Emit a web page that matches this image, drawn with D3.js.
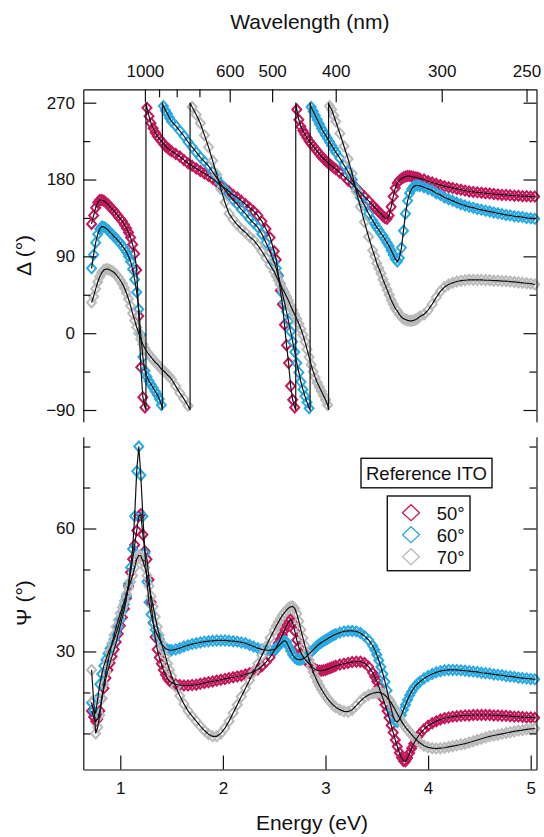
<!DOCTYPE html>
<html>
<head>
<meta charset="utf-8">
<script src="https://cdn.jsdelivr.net/npm/d3@7"></script>
<style>
  body { margin: 0; background: #fff; }
  svg text { font-family: Arial, "Liberation Sans", sans-serif; fill: #111; }
</style>
</head>
<body>
<div id="chart"></div>
<script>
// photon energy grid (eV), denser where the curves are steep
const energy = [
  0.72,0.74,0.76,0.78,0.80,0.82,0.84,0.86,0.88,0.90,0.92,0.94,0.96,0.98,1.00,1.02,1.04,1.06,1.08,1.10,
  1.12,1.14,1.16,1.18,1.20,1.22,1.24,1.26,1.28,1.30,1.32,1.34,1.36,1.38,1.40,1.42,1.44,1.46,1.48,1.50,
  1.54,1.58,1.62,1.66,1.70,1.74,1.78,1.82,1.86,1.90,1.94,1.98,2.02,2.06,2.10,2.14,2.18,2.22,2.26,2.30,
  2.34,2.38,2.42,2.46,2.50,
  2.52,2.54,2.56,2.58,2.60,2.62,2.64,2.66,2.68,2.70,2.72,2.74,2.76,2.78,2.80,2.82,2.84,2.86,2.88,2.90,
  2.92,2.94,2.96,2.98,3.00,3.02,3.04,3.06,3.08,3.10,
  3.14,3.18,3.22,3.26,3.30,3.34,3.38,3.42,3.46,
  3.48,3.50,3.52,3.54,3.56,3.58,3.60,3.62,3.64,3.66,3.68,3.70,3.72,3.74,3.76,3.78,3.80,3.82,3.84,3.86,
  3.88,3.90,3.92,
  3.96,4.00,4.04,4.08,4.12,4.16,4.20,4.24,4.28,4.32,4.36,4.40,4.44,4.48,4.52,4.56,4.60,4.64,4.68,4.72,
  4.76,4.80,4.84,4.88,4.92,4.96,5.00,5.04
];

// Delta (deg), wrapped into -90..270
const delta50 = [
  128,138,147,153,156,156,155,153,151,148, 145.5,143,140,137,134,131,127,123,118,112,
  104,93,74,20,-40,-75,-87,264,254,246, 240,235,231,228,225,222,219,217,215,213,
  210,207,203,199,196,193,190,187,184,181, 177,173,170,166,162,159,155,151,147,143, 138,131,122,112,96,
  86,68,50,34,10,-14,-35,-62,-78,-87, 262,250,242,237,233,229,225,222,219,216, 213,210,207,205,202,200,198,196,194,192,
  188,184,179,175,170,165,160,155,150,
  147,145,142,140,137,135,134,138,148,160, 170,176,179,181,182.5,183.5,184,184,183.5,183, 182.5,182,181,
  180,178,176.5,175,173.5,172,171,170,169,168, 167,166,165.5,165,164.5,164,163.5,163,162.5,162, 162,161.5,161,161,160.5,160.5,160,160
];
const delta60 = [
  76,92,106,116,122,125,124.5,123,121,118, 116,113,111,108,105.5,102,99,95,90,84,
  75,63,48,28,-2,-28,-44,-51,-56,-60, -64,-68,-72,-77,-84,266,261,257,252,248,
  243,237,231,224,218,212,206,201,196,189, 182,175,168,162,156,151,145,140,134,129, 124,116,106,95,83,
  76,67,58,47,36,25,14,2,-10,-22, -35,-46,-57,-66,-74,-81,-88,265,260,255, 250,245,240,236,232,228,224,220,216,212,
  205,197,189,180,169,159,150,140,132,
  128,124,121,117,114,110,106,102,97,92, 87,84,88,100,120,140,155,164,169,172, 173,173,172.5,
  171,169,167,164,162,159,157,155,153,151, 149.5,148,147,145.5,144.5,143.5,142.5,141.5,140.5,139.5, 138.5,138,137,136.5,136,135,134.5,134
];
const delta70 = [
  36,43,52,60,66,71,74,75,75,74, 72.5,71,68.5,65.5,62,58,53,47,40,32,
  23,15,7,0,-7,-13,-18,-22,-25,-28, -31,-34,-36,-39,-42,-44,-46,-49,-51,-54,
  -62,-70,-77,-85,265,256,246,232,218,202, 186,169,153,140,133,127,122,118,113,109, 103,96,88,80,72,
  67,62,57,52,48,43,38,32,27,22, 17,11,5,-2,-10,-19,-28,-37,-45,-52, -58,-63,-68,-73,-78,-84,266,262,255,248,
  234,219,204,187,166,148,130,113,97,
  90,82,76,70,63,57,51,45,39,34, 29,26,22,19,17,16,15,14.5,14.5,15, 16,17.5,19.5,
  22,27,34,42,49,54,57,59,60.5,61.5, 62,62.5,62.5,62.5,62.5,62,62,61.5,61.5,61, 61,60.5,60,59.5,59,58.5,58,57
];

// Psi (deg)
const psi50 = [
  15.5,14,13,13.5,15.5,18.5,21,23.5,25.5,27.2, 28.8,30.5,32.3,34.3,36.3,38.3,40.4,43,46,49.3,
  52.5,56,59.5,63,63.5,58.5,54.5,52.5,47.5,42, 37,33.5,30.5,28.5,27,25.5,24.3,23.4,22.8,22.4,
  22,21.8,21.7,21.7,21.8,21.9,22.1,22.3,22.5,22.7, 22.9,23.1,23.3,23.5,23.7,23.9,24.1,24.4,24.7,25.1, 25.6,26.4,27.4,28.6,30.2,
  31,32,33,34,35.2,36.3,37.3,37.8,37,35, 32.8,31,29.7,28.8,28.1,27.5,27,26.5,26,25.6, 25.4,25.3,25.3,25.4,25.5,25.7,25.9,26.1,26.3,26.5,
  26.8,27,27.2,27.4,27.5,27.5,27.2,26.3,24.8,
  23.8,22.7,21.4,19.9,18.5,17,15.5,13.8,12,10.2, 8.4,6.8,5.3,4.1,3.3,3.2,4,5.2,6.4,7.5, 8.4,9.2,9.9,
  11,11.9,12.5,13,13.4,13.7,13.9,14.1,14.2,14.3, 14.4,14.4,14.5,14.5,14.5,14.5,14.5,14.4,14.4,14.3, 14.3,14.2,14.1,14.1,14,13.9,13.9,13.8
];
const psi60 = [
  17.5,15.5,15,18.5,22,24.5,26.5,28,29.5,30.7, 31.8,33,34.4,36,37.8,39.8,41.5,43.5,46.5,50.5,
  55,63,74,80,73,63,54,47,42,39, 37,35.3,34,33,32,31.3,30.8,30.5,30.3,30.3,
  30.5,30.8,31.2,31.5,31.8,32,32.2,32.4,32.5,32.6, 32.7,32.7,32.7,32.6,32.5,32.4,32.2,32,31.6,31.2, 30.8,30.5,30.3,30.3,30.5,
  30.8,31.3,31.8,32.3,32.6,32.3,31.3,30.2,29.2,28.5, 28.1,28,28,28.2,28.5,28.9,29.4,29.9,30.4,30.9, 31.4,31.8,32.2,32.5,32.8,33.1,33.4,33.7,34,34.2,
  34.6,34.9,35,35,34.9,34.5,33.8,32.8,31.4,
  30.4,29.2,27.8,26.2,24.5,22.6,20.5,18.2,16,14.2, 13,12.8,13.4,14.5,15.8,17,18.2,19.3,20.2,21, 21.7,22.2,22.6,
  23.4,24,24.5,24.9,25.2,25.4,25.5,25.5,25.5,25.4, 25.3,25.2,25.1,25,24.8,24.7,24.6,24.4,24.3,24.2, 24,23.9,23.8,23.6,23.5,23.4,23.3,23.2
];
const psi70 = [
  25.5,18,10,11.5,14.5,18.5,22,25,27.5,30, 32,34,36,37.7,39.3,40.8,42.3,44,45.5,47,
  48.5,50.5,52.5,53.5,53.3,52,50.5,48.5,46,43.5, 41,38.5,36,34,32,30.5,28.8,27,25.5,24,
  21.4,19.2,17.2,15.5,14.2,13,11.8,10.7,9.8,9.3, 9.3,10,11.3,13,15,17,19,21,23,25, 27,29,31.2,33.3,35.2,
  36.2,37.1,38,38.8,39.5,40.1,40.6,40.9,41,40.5, 39.2,37.4,35.3,33.3,31.4,29.6,27.9,26.4,25,23.8, 22.7,21.7,20.8,20,19.2,18.5,17.9,17.3,16.8,16.4,
  15.8,15.4,15.3,15.8,16.8,17.9,18.8,19.4,19.8,
  19.9,20,20,19.9,19.7,19.3,18.8,18.2,17.5,16.6, 15.7,14.8,13.9,13,12.2,11.5,10.9,10.3,9.7,9.1, 8.6,8.1,7.7,
  7,6.6,6.4,6.3,6.4,6.5,6.7,6.9,7.1,7.3, 7.5,7.8,8.1,8.4,8.7,9,9.3,9.5,9.7,9.9, 10.1,10.3,10.5,10.7,10.8,11,11.1,11.2
];

// energies where the Delta fit wraps from -90 back to 270
const wrap50 = [1.25, 2.71];
const wrap60 = [1.41, 2.85];
const wrap70 = [1.68, 3.03];
const deltaWrap = [-90, 270];

const angles = ["50°", "60°", "70°"];
const colors = ["#c4175b", "#29a9e0", "#bababa"];

const deltaTicks = [-90, 0, 90, 180, 270], deltaMinor = [-45, 45, 135, 225];
const psiTicks = [30, 60], psiMinor = [10, 20, 40, 50, 70, 80];
const energyTicks = [1, 2, 3, 4, 5];
const waveTicks = [1000, 600, 500, 400, 300, 250], waveMinor = [900, 800, 700];

const W = 544, H = 837;
const left = 83.3, right = 536.5;
const top1 = 89.3, bot1 = 421.7, top2 = 436.7, bot2 = 769.5;

const svg = d3.select("#chart").append("svg").attr("width", W).attr("height", H);

const x = d3.scaleLinear().domain([0.6394, 5.0565]).range([left, right]);
const yD = d3.scaleLinear().domain([-103.7, 285.7]).range([bot1, top1]);
const yP = d3.scaleLinear().domain([1.2, 82.4]).range([bot2, top2]);

const defs = svg.append("defs");
defs.append("clipPath").attr("id", "clipD").append("rect")
    .attr("x", left).attr("y", top1 - 6).attr("width", right - left + 4).attr("height", bot1 - top1 + 6);
defs.append("clipPath").attr("id", "clipP").append("rect")
    .attr("x", left).attr("y", top2 - 6).attr("width", right - left + 4).attr("height", bot2 - top2 + 6);

const diamond = "M0,-5L4.5,0L0,5L-4.5,0Z";

function drawPanel(series, y, clip, wraps) {
    var g = svg.append("g").attr("clip-path", "url(#" + clip + ")");
    series.forEach(function (vals, i) {
        g.append("g").selectAll("path")
            .data(energy.map(function (e, j) { return [e, vals[j]]; }))
            .enter().append("path")
            .attr("d", diamond)
            .attr("transform", function (d) { return "translate(" + x(d[0]) + "," + y(d[1]) + ")"; })
            .attr("fill", "none")
            .attr("stroke", colors[i])
            .attr("stroke-width", 2);
    });
    // fit lines (black) on top
    var line = d3.line().x(function (d) { return x(d[0]); }).y(function (d) { return y(d[1]); });
    series.forEach(function (vals, i) {
        var pts = [], k = 0;
        for (var j = 0; j < energy.length; j++) {
            if (wraps && j > 0 && Math.abs(vals[j] - vals[j - 1]) > 180) {
                pts.push([wraps[i][k], deltaWrap[0]]);
                pts.push([wraps[i][k], deltaWrap[1]]);
                k++;
            }
            pts.push([energy[j], vals[j]]);
        }
        g.append("path").attr("d", line(pts))
            .attr("fill", "none").attr("stroke", "#111").attr("stroke-width", 1.2);
    });
}

drawPanel([delta50, delta60, delta70], yD, "clipD", [wrap50, wrap60, wrap70]);
drawPanel([psi50, psi60, psi70], yP, "clipP", null);

function styleAxis(g, size) {
    g.selectAll("path, line").attr("stroke", "#111").attr("stroke-width", 1.2);
    g.selectAll("text").style("font-size", size + "px").attr("fill", "#111");
    g.attr("font-family", null);
}

// ---- top panel axes ----
styleAxis(svg.append("g").attr("transform", "translate(" + left + ",0)")
    .call(d3.axisLeft(yD).tickValues(deltaTicks).tickSize(-13).tickSizeOuter(0).tickPadding(8.3)), 17);
styleAxis(svg.append("g").attr("transform", "translate(" + left + ",0)")
    .call(d3.axisLeft(yD).tickValues(deltaMinor).tickSize(-7).tickFormat("")).call(function (g) { g.select(".domain").remove(); }), 17);
styleAxis(svg.append("g").attr("transform", "translate(" + right + ",0)")
    .call(d3.axisRight(yD).tickValues(deltaTicks).tickSize(-13).tickSizeOuter(0).tickFormat("")), 17);
styleAxis(svg.append("g").attr("transform", "translate(" + right + ",0)")
    .call(d3.axisRight(yD).tickValues(deltaMinor).tickSize(-7).tickFormat("")).call(function (g) { g.select(".domain").remove(); }), 17);

styleAxis(svg.append("g").attr("transform", "translate(0," + top1 + ")")
    .call(d3.axisTop(x).tickValues(waveTicks.map(function (l) { return 1239.84 / l; }))
        .tickFormat(function (d, i) { return waveTicks[i]; })
        .tickSize(-13).tickSizeOuter(0).tickPadding(12)), 17);
styleAxis(svg.append("g").attr("transform", "translate(0," + top1 + ")")
    .call(d3.axisTop(x).tickValues(waveMinor.map(function (l) { return 1239.84 / l; }))
        .tickSize(-8).tickFormat("")).call(function (g) { g.select(".domain").remove(); }), 17);

// ---- bottom panel axes ----
styleAxis(svg.append("g").attr("transform", "translate(" + left + ",0)")
    .call(d3.axisLeft(yP).tickValues(psiTicks).tickSize(-13).tickSizeOuter(0).tickPadding(8.3)), 17);
styleAxis(svg.append("g").attr("transform", "translate(" + left + ",0)")
    .call(d3.axisLeft(yP).tickValues(psiMinor).tickSize(-7).tickFormat("")).call(function (g) { g.select(".domain").remove(); }), 17);
styleAxis(svg.append("g").attr("transform", "translate(" + right + ",0)")
    .call(d3.axisRight(yP).tickValues(psiTicks).tickSize(-13).tickSizeOuter(0).tickFormat("")), 17);
styleAxis(svg.append("g").attr("transform", "translate(" + right + ",0)")
    .call(d3.axisRight(yP).tickValues(psiMinor).tickSize(-7).tickFormat("")).call(function (g) { g.select(".domain").remove(); }), 17);
styleAxis(svg.append("g").attr("transform", "translate(0," + bot2 + ")")
    .call(d3.axisBottom(x).tickValues(energyTicks).tickFormat(d3.format("d"))
        .tickSize(-14).tickSizeOuter(0).tickPadding(12)), 17);

// ---- titles ----
svg.append("text").attr("x", (left + right) / 2).attr("y", 29)
    .attr("text-anchor", "middle").style("font-size", "21px").text("Wavelength (nm)");
svg.append("text").attr("x", (left + right) / 2 + 2).attr("y", 830)
    .attr("text-anchor", "middle").style("font-size", "21px").text("Energy (eV)");
svg.append("text").attr("transform", "translate(31," + (top1 + bot1) / 2 + ") rotate(-90)")
    .attr("text-anchor", "middle").style("font-size", "21px").text("Δ (°)");
svg.append("text").attr("transform", "translate(31," + (top2 + bot2) / 2 + ") rotate(-90)")
    .attr("text-anchor", "middle").style("font-size", "21px").text("Ψ (°)");

// ---- legend ----
svg.append("rect").attr("x", 361).attr("y", 458.3).attr("width", 131).attr("height", 29.5)
    .attr("fill", "#fff").attr("stroke", "#111").attr("stroke-width", 1.4);
svg.append("text").attr("x", 426.5).attr("y", 480).attr("text-anchor", "middle")
    .style("font-size", "18.5px").text("Reference ITO");

svg.append("rect").attr("x", 387.3).attr("y", 496).attr("width", 82.7).attr("height", 74.7)
    .attr("fill", "#fff").attr("stroke", "#111").attr("stroke-width", 1.4);
var leg = svg.append("g").selectAll("g").data(angles).enter().append("g")
    .attr("transform", function (d, i) { return "translate(411," + (512.7 + i * 22) + ")"; });
leg.append("path").attr("d", "M0,-8L8.5,0L0,8L-8.5,0Z")
    .attr("fill", "none").attr("stroke", function (d, i) { return colors[i]; }).attr("stroke-width", 1.3);
leg.append("text").attr("x", 25.7).attr("y", 7.3).style("font-size", "18.5px")
    .text(function (d) { return d; });
</script>
</body>
</html>
